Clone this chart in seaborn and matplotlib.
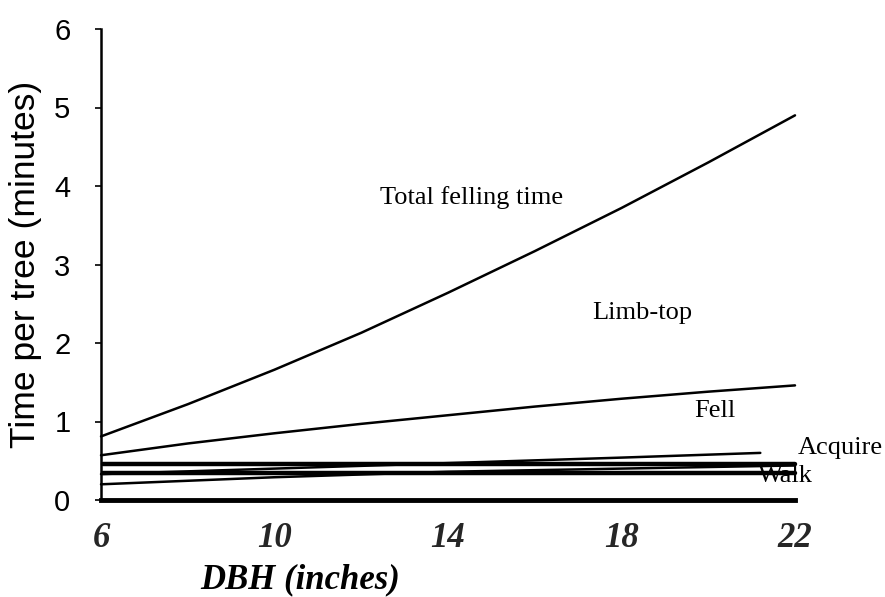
import matplotlib
matplotlib.use("Agg")
import matplotlib.pyplot as plt
import seaborn as sns
import pandas as pd

# Data
dbh = [6, 8, 10, 12, 14, 16, 18, 20, 22]
total = [0.81, 1.22, 1.66, 2.13, 2.64, 3.17, 3.72, 4.30, 4.90]
fell = [0.57, 0.72, 0.85, 0.97, 1.08, 1.19, 1.29, 1.38, 1.46]
acquire_x = [6, 10, 14, 18, 21.2]
acquire = [0.33, 0.40, 0.47, 0.54, 0.60]
walk_x = [6, 10, 14, 18, 22]
walk = [0.20, 0.29, 0.36, 0.40, 0.44]
flat_x = [6.05, 22]
flat_upper = [0.46, 0.46]
flat_lower = [0.34, 0.34]
xticks = [6, 10, 14, 18, 22]
yticks = [0, 1, 2, 3, 4, 5, 6]

sns.set_theme(style="white")
plt.rcParams['font.family'] = ['Liberation Sans', 'DejaVu Sans']

fig = plt.figure(figsize=(8.85, 5.97), dpi=100)
ax = fig.add_axes([101/885, 97/597, 694/885, 471/597])

thin = dict(color="black", linewidth=1.8, clip_on=False)
thick = dict(color="black", linewidth=3.2, clip_on=False)

sns.lineplot(x=dbh, y=total, ax=ax, **thin)
sns.lineplot(x=dbh, y=fell, ax=ax, **thin)
sns.lineplot(x=acquire_x, y=acquire, ax=ax, **thin)
sns.lineplot(x=walk_x, y=walk, ax=ax, **thin)
sns.lineplot(x=flat_x, y=flat_upper, ax=ax, **thick)
sns.lineplot(x=flat_x, y=flat_lower, ax=ax, **thick)

ax.set_xlim(6, 22)
ax.set_ylim(0, 6)
ax.set_xticks(xticks)
ax.set_yticks(yticks)
ax.set_xticklabels([str(v) for v in xticks], family="Liberation Serif",
                   fontweight="bold", fontstyle="italic", fontsize=25)
ax.set_yticklabels([str(v) for v in yticks], fontsize=21)
ax.tick_params(axis="x", length=0, pad=16)
ax.tick_params(axis="y", left=True, length=4, width=1.2, pad=18, colors="black")

for s in ["top", "right"]:
    ax.spines[s].set_visible(False)
ax.spines["left"].set_linewidth(1.8)
ax.spines["left"].set_color("black")
ax.spines["bottom"].set_linewidth(3.5)
ax.spines["bottom"].set_color("black")

ax.set_ylabel("Time per tree (minutes)", fontsize=25.5, labelpad=9, color="black")
ax.set_xlabel("DBH (inches)", family="Liberation Serif", fontweight="bold",
              fontstyle="italic", fontsize=25, color="black")
ax.xaxis.set_label_coords(0.287, -0.135)

ann = dict(family="Liberation Serif", fontsize=19, color="black",
           ha="center", va="center")
ax.text(14.55, 3.85, "Total felling time", **ann)
ax.text(18.47, 2.38, "Limb-top", **ann)
ax.text(20.16, 1.13, "Fell", **ann)
ax.text(23.04, 0.66, "Acquire", clip_on=False, **ann)
ax.text(21.77, 0.31, "Walk", clip_on=False, **ann)

fig.savefig("out.png", dpi=100)
